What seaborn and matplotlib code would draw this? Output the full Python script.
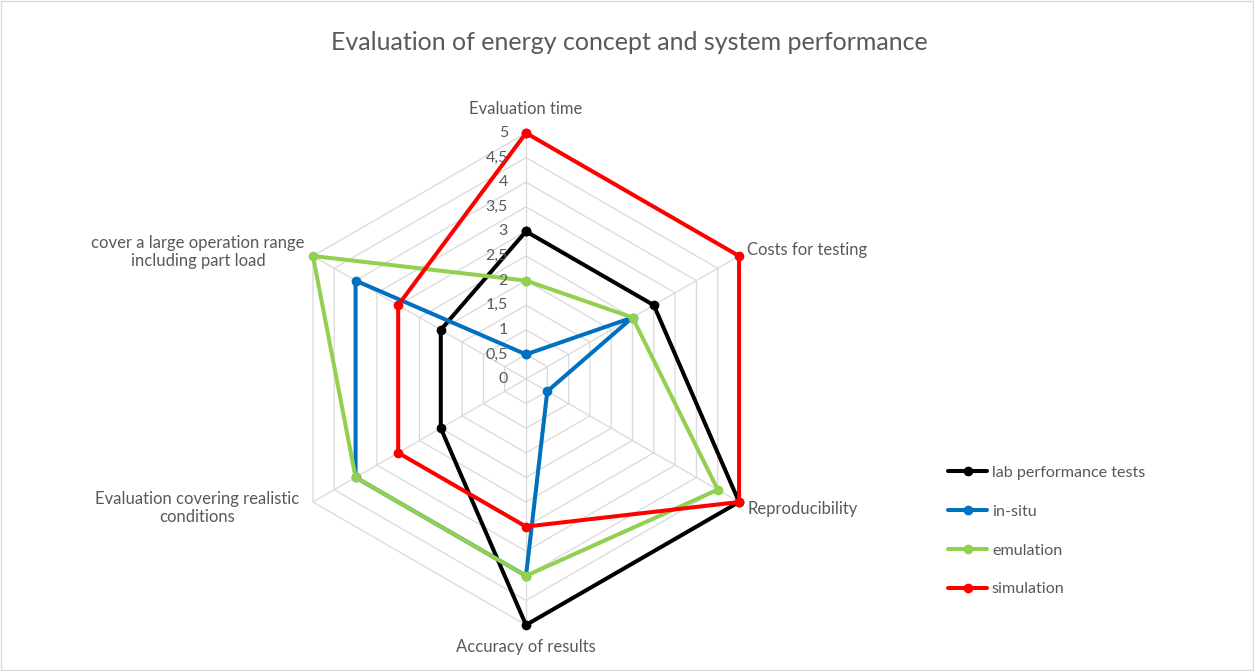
import numpy as np
import pandas as pd
import matplotlib.pyplot as plt
import seaborn as sns
from matplotlib.lines import Line2D

# Categories (clockwise from the top)
categories = ['Evaluation time', 'Costs for testing', 'Reproducibility',
              'Accuracy of results', 'Evaluation covering realistic\nconditions',
              'cover a large operation range\nincluding part load']

# Series values
lab_tests = [3, 3, 5, 5, 2, 2]
in_situ = [0.5, 2.5, 0.5, 4, 4, 4]
emulation = [2, 2.5, 4.5, 4, 4, 5]
simulation = [5, 5, 5, 3, 3, 3]

series_names = ['lab performance tests', 'in-situ', 'emulation', 'simulation']
series_values = [lab_tests, in_situ, emulation, simulation]
series_colors = ['#000000', '#0070C0', '#92D050', '#FF0000']

ring_ticks = [0, 0.5, 1, 1.5, 2, 2.5, 3, 3.5, 4, 4.5, 5]
tick_labels = [str(t).replace('.', ',') if t % 1 else str(int(t)) for t in ring_ticks]

sns.set_style('white')
plt.rcParams['font.family'] = ['Lato', 'DejaVu Sans']
text_color = '#595959'
grid_color = '#D9D9D9'

fig = plt.figure(figsize=(12.54, 6.71), dpi=100)
ax = fig.add_axes([280 / 1254, 46 / 671, 492 / 1254, 492 / 671], projection='polar')
ax.set_theta_zero_location('N')
ax.set_theta_direction(-1)
ax.set_ylim(0, 5)
ax.grid(False)
ax.spines['polar'].set_visible(False)
ax.set_xticks([])
ax.set_yticks([])
ax.patch.set_alpha(0)

n = len(categories)
angles = np.linspace(0, 2 * np.pi, n, endpoint=False)
closed_angles = np.append(angles, 2 * np.pi)

# Hexagonal grid
for r in ring_ticks[1:]:
    ax.plot(closed_angles, [r] * (n + 1), color=grid_color, lw=0.9, zorder=1, clip_on=False)
for a in angles:
    ax.plot([a, a], [0, 5], color=grid_color, lw=0.9, zorder=1, clip_on=False)

# Series
for name, vals, col in zip(series_names, series_values, series_colors):
    df = pd.DataFrame({'theta': closed_angles, 'r': vals + vals[:1]})
    sns.lineplot(data=df, x='theta', y='r', ax=ax, sort=False, estimator=None,
                 color=col, lw=2.9, marker='o', markersize=7, markeredgewidth=0,
                 clip_on=False, zorder=3, legend=False)
ax.set_xlabel('')
ax.set_ylabel('')

# Radial tick labels
for t, lab in zip(ring_ticks, tick_labels):
    ax.annotate(lab, xy=(0, t), xytext=(-18, 0), textcoords='offset pixels',
                ha='right', va='center', fontsize=11.5, color=text_color)

# Category labels
label_offsets = [(0, 16, 'center', 'bottom'), (8, 6, 'left', 'center'),
                 (8, -7, 'left', 'center'), (0, -22, 'center', 'center'),
                 (-14, -6, 'right', 'center'), (-8, 4, 'right', 'center')]
for a, cat, (dx, dy, ha, va) in zip(angles, categories, label_offsets):
    ax.annotate(cat, xy=(a, 5), xytext=(dx, dy), textcoords='offset pixels',
                ha=ha, va=va, fontsize=12, color=text_color, multialignment='center')

fig.text(0.502, 1 - 42 / 671, 'Evaluation of energy concept and system performance',
         ha='center', va='center', fontsize=18, color=text_color)

handles = [Line2D([], [], color=c, lw=2.9, marker='o', markersize=7, markeredgewidth=0)
           for c in series_colors]
fig.legend(handles, series_names, loc='center left', bbox_to_anchor=(942 / 1254, 1 - 531 / 671),
           frameon=False, fontsize=11.6, labelcolor=text_color, handlelength=2.4,
           handletextpad=0.3, labelspacing=1.52, borderaxespad=0)

# Figure border
fig.patches.append(plt.Rectangle((0.0008, 0.0015), 0.9984, 0.997, transform=fig.transFigure,
                                 fill=False, edgecolor=grid_color, lw=1))

fig.savefig('out.png', dpi=100)
